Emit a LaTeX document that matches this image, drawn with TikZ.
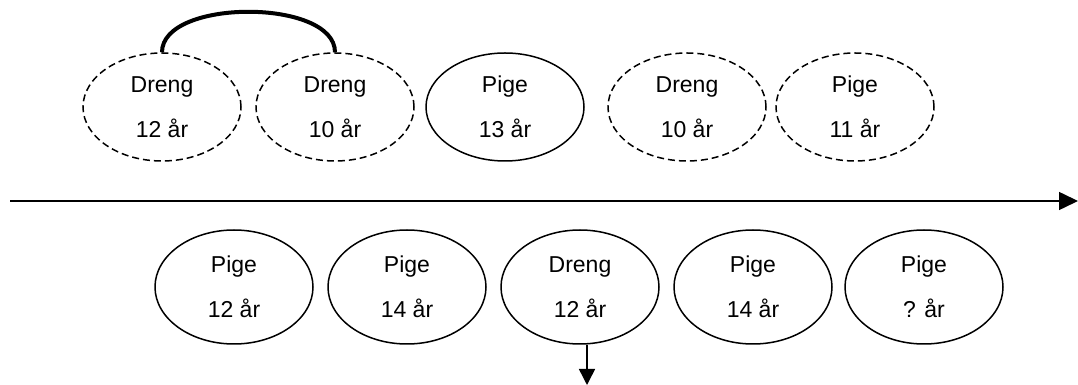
\documentclass[tikz,border=0pt]{standalone}
\usepackage{fontspec}
\setmainfont{Liberation Sans}
\usepackage{tikz}
\usetikzlibrary{arrows,arrows.meta,shapes}

\tikzset{
  kid/.style={ellipse, draw, line width=1.5pt, minimum width=158pt, minimum height=108pt,
    inner sep=0pt, align=center, font=\fontsize{23}{45}\selectfont},
  gone/.style={kid, dash pattern=on 7pt off 4pt},
  queue/.style={kid, minimum height=114pt},
  timeline/.style={line width=1.5pt, -{Triangle[length=19pt,width=18pt]}}
}

\begin{document}
\begin{tikzpicture}[x=1pt,y=1pt]
        \useasboundingbox (0,0) rectangle (1078,385);
        % top row
        \node[gone] (d12) at (162,278) {Dreng\\12 år};
        \node[gone] (d10) at (335,278) {Dreng\\10 år};
        \node[kid] (p13) at (505,278) {Pige\\13 år};
        \node[gone] (d10b) at (687,278) {Dreng\\10 år};
        \node[gone] (p11) at (855,278) {Pige\\11 år};
        % bottom row
        \node[queue] (p12) at (234,98) {Pige\\12 år};
        \node[queue] (p14) at (407,98) {Pige\\14 år};
        \node[queue] (dr12) at (580,98) {Dreng\\12 år};
        \node[queue] (p14b) at (753,98) {Pige\\14 år};
        \node[queue] (pq) at (924,98) {Pige\\? år};
        % time axis
        \coordinate (start) at (10,184);
        \coordinate (stop) at (1078,184);
        \draw[timeline] (start) -- (stop);
        \coordinate (out) at (587,0);
        \draw[line width=1.5pt, -{Triangle[length=16pt,width=16pt]}] (dr12.south -| out) -- (out);
        \draw[line width=4pt] (d12.north) to[out=90,in=90,looseness=0.8] (d10.north);
    \end{tikzpicture}
\end{document}
